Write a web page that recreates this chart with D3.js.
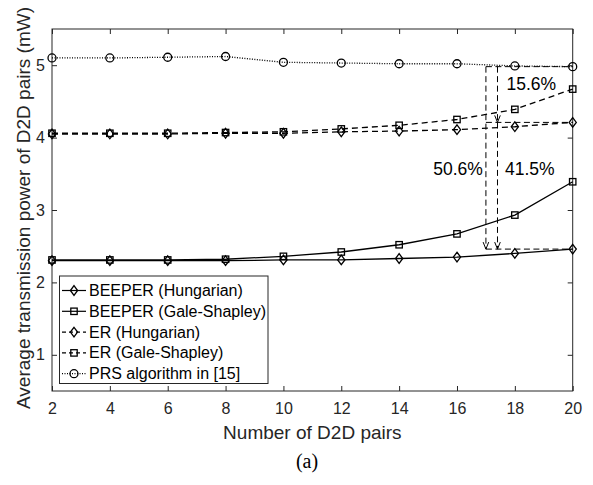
<!DOCTYPE html>
<html><head><meta charset="utf-8">
<script src="https://cdn.jsdelivr.net/npm/d3@7"></script>
<style>body{margin:0;background:#fff}svg{display:block}</style>
</head><body>
<script>
const xValues = [2,4,6,8,10,12,14,16,18,20];
const beeperHung = [2.30,2.30,2.30,2.30,2.31,2.31,2.33,2.35,2.40,2.46];
const beeperGS   = [2.31,2.31,2.31,2.32,2.36,2.42,2.52,2.67,2.93,3.39];
const erHung     = [4.05,4.05,4.05,4.06,4.06,4.08,4.09,4.11,4.15,4.21];
const erGS       = [4.06,4.06,4.06,4.07,4.08,4.12,4.17,4.25,4.39,4.67];
const prs        = [5.10,5.10,5.11,5.12,5.04,5.03,5.02,5.02,4.99,4.98];
const seriesNames = ["BEEPER (Hungarian)","BEEPER (Gale-Shapley)","ER (Hungarian)","ER (Gale-Shapley)","PRS algorithm in [15]"];
const xTicks = [2,4,6,8,10,12,14,16,18,20];
const yTicks = [1,2,3,4,5];
const annoX = [17, 17.4];
const annoLabels = ["15.6%","50.6%","41.5%"];

const series = [
  {name:seriesNames[0], values:beeperHung, marker:"diamond", dash:null},
  {name:seriesNames[1], values:beeperGS, marker:"square", dash:null},
  {name:seriesNames[2], values:erHung, marker:"diamond", dash:"6,4"},
  {name:seriesNames[3], values:erGS, marker:"square", dash:"6,4"},
  {name:seriesNames[4], values:prs, marker:"circle", dash:"1,1.5"}
];

const W=593,H=485;
const L=52,R=572.7,T=29,B=391;
const svg=d3.select("body").append("svg").attr("width",W).attr("height",H);
const x=d3.scaleLinear().domain([2,20]).range([L,R]);
const y=d3.scaleLinear().domain([0.5,5.5]).range([B,T]);
const font="Liberation Sans, Arial, Helvetica, sans-serif";
const axc="#262626";

// axes box
svg.append("rect").attr("x",L).attr("y",T).attr("width",R-L).attr("height",B-T)
  .attr("fill","none").attr("stroke",axc).attr("stroke-width",1);
const tl=5;
const gx=svg.append("g").attr("transform",`translate(0,${B})`)
  .call(d3.axisBottom(x).tickValues(xTicks).tickFormat(d3.format("d")).tickSizeInner(-tl).tickSizeOuter(0).tickPadding(12));
const gxt=svg.append("g").attr("transform",`translate(0,${T})`)
  .call(d3.axisTop(x).tickValues(xTicks).tickSizeInner(-tl).tickSizeOuter(0).tickFormat(""));
const gy=svg.append("g").attr("transform",`translate(${L},0)`)
  .call(d3.axisLeft(y).tickValues(yTicks).tickFormat(d3.format("d")).tickSizeInner(-tl).tickSizeOuter(0).tickPadding(7));
const gyr=svg.append("g").attr("transform",`translate(${R},0)`)
  .call(d3.axisRight(y).tickValues(yTicks).tickSizeInner(-tl).tickSizeOuter(0).tickFormat(""));
[gx,gxt,gy,gyr].forEach(g=>{
  g.select(".domain").remove();
  g.selectAll("line").attr("stroke",axc);
  g.selectAll("text").attr("fill",axc).style("font-family",font).style("font-size","16px");
});

// titles
svg.append("text").attr("x",(L+R)/2).attr("y",439).attr("text-anchor","middle")
  .style("font-family",font).style("font-size","19px").attr("fill",axc).text("Number of D2D pairs");
svg.append("text").attr("transform",`translate(30,${(T+B)/2-2}) rotate(-90)`).attr("text-anchor","middle")
  .style("font-family",font).style("font-size","19px").attr("fill",axc).text("Average transmission power of D2D pairs (mW)");
svg.append("text").attr("x",307).attr("y",468).attr("text-anchor","middle")
  .style("font-family","Liberation Serif, Times New Roman, serif").style("font-size","20px").attr("fill","#000").text("(a)");

function drawMarker(g,type,cx,cy){
  if(type==="diamond"){
    g.append("path").attr("d",`M${cx},${cy-4.8}L${cx+3.6},${cy}L${cx},${cy+4.8}L${cx-3.6},${cy}Z`)
      .attr("fill","none").attr("stroke","#000").attr("stroke-width",1.3);
  } else if(type==="square"){
    g.append("rect").attr("x",cx-3.2).attr("y",cy-3.2).attr("width",6.4).attr("height",6.4)
      .attr("fill","none").attr("stroke","#000").attr("stroke-width",1.3);
  } else {
    g.append("circle").attr("cx",cx).attr("cy",cy).attr("r",4)
      .attr("fill","none").attr("stroke","#000").attr("stroke-width",1.3);
  }
}

const line=d3.line().x((d,i)=>x(xValues[i])).y(d=>y(d));
series.forEach(s=>{
  const g=svg.append("g");
  g.append("path").attr("d",line(s.values)).attr("fill","none").attr("stroke","#000")
    .attr("stroke-width",1.3).attr("stroke-dasharray",s.dash);
  s.values.forEach((v,i)=>drawMarker(g,s.marker,x(xValues[i]),y(v)));
});

// annotations
const yTop=y(prs[9]), yMid=y(erHung[9]), yBot=y(beeperHung[9]);
const ag=svg.append("g").attr("stroke","#000").attr("stroke-width",1).attr("fill","none");
const dash="6,3.5";
function seg(x1,y1,x2,y2){ag.append("line").attr("x1",x1).attr("y1",y1).attr("x2",x2).attr("y2",y2).attr("stroke-dasharray",dash);}
function arrow(xx,yy){ag.append("path").attr("d",`M${xx-2.8},${yy-7}L${xx},${yy}L${xx+2.8},${yy-7}`);}
const xa=x(annoX[0]), xb=x(annoX[1]);
seg(xa,yTop,x(20),yTop);
seg(xa,yMid,x(20),yMid);
seg(xa,yBot,x(20),yBot);
seg(xa,yTop,xa,yBot); arrow(xa,yBot);
seg(xb,yTop,xb,yMid); arrow(xb,yMid);
seg(xb,yMid,xb,yBot); arrow(xb,yBot);

const tf=svg.append("g").style("font-family",font).style("font-size","17.5px").attr("fill","#000");
tf.append("text").attr("x",xb+9).attr("y",y(4.66)).text(annoLabels[0]);
tf.append("text").attr("x",xa-3).attr("y",y(3.48)).attr("text-anchor","end").text(annoLabels[1]);
tf.append("text").attr("x",xb+7.5).attr("y",y(3.48)).text(annoLabels[2]);

// legend
const lg=svg.append("g");
lg.append("rect").attr("x",59.5).attr("y",276).attr("width",208.5).attr("height",107.5)
  .attr("fill","#fff").attr("stroke",axc).attr("stroke-width",1);
series.forEach((s,i)=>{
  const cy=290.5+i*20.8;
  lg.append("line").attr("x1",62).attr("x2",86).attr("y1",cy).attr("y2",cy)
    .attr("stroke","#000").attr("stroke-width",1.2).attr("stroke-dasharray",s.dash? (s.dash==="6,4"?"4,3":"1,1.5"):null);
  drawMarker(lg,s.marker,74,cy);
  lg.append("text").attr("x",89).attr("y",cy+5.5).style("font-family",font).style("font-size","16px")
    .attr("fill","#000").text(s.name);
});
</script>
</body></html>
